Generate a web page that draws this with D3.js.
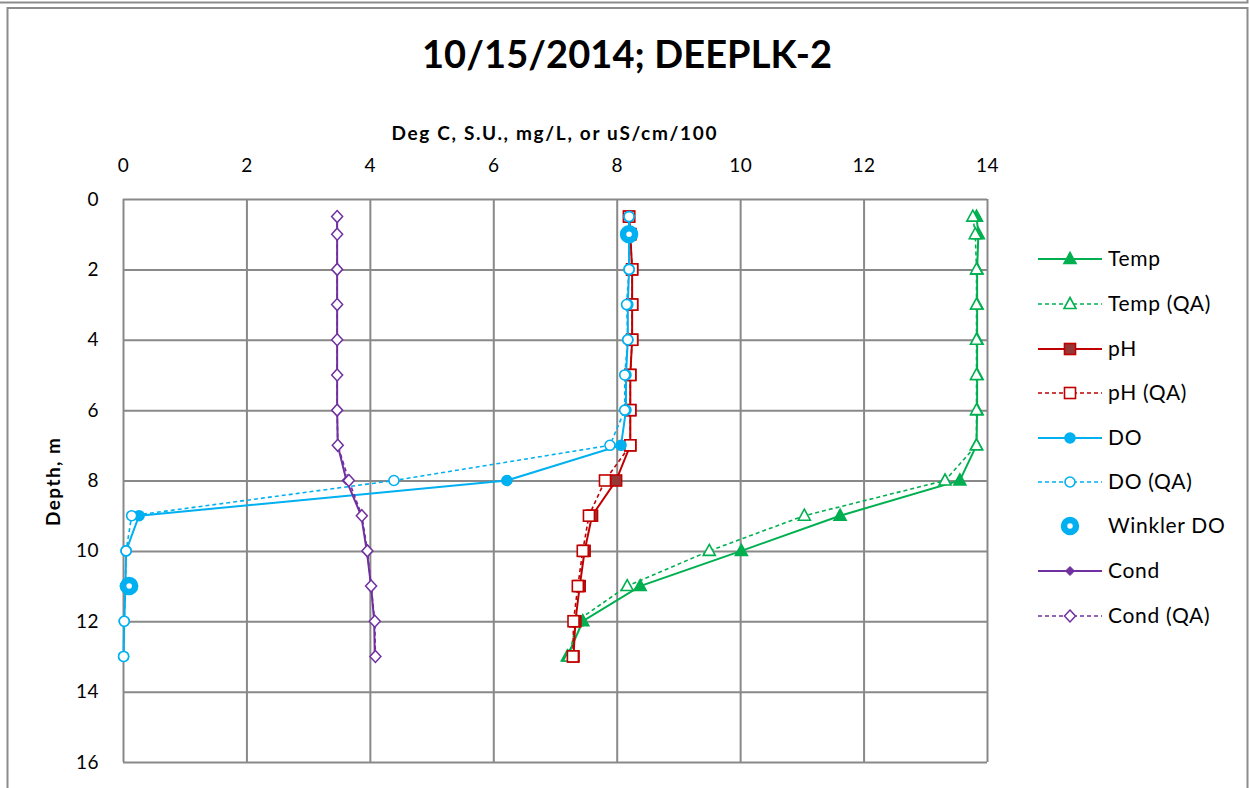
<!DOCTYPE html>
<html>
<head>
<meta charset="utf-8">
<script src="https://cdn.jsdelivr.net/npm/d3@7"></script>
<style>
  html, body { margin: 0; padding: 0; background: #fff; }
  svg { display: block; }
  text { font-family: Lato, "Open Sans", sans-serif; fill: #000; }
</style>
</head>
<body>
<div id="chart"></div>
<script>
// depth of each profile reading, m
const depths = [0.5, 1, 2, 3, 4, 5, 6, 7, 8, 9, 10, 11, 12, 13];

// values
const temp   = [13.83, 13.86, 13.84, 13.84, 13.84, 13.84, 13.84, 13.83, 13.56, 11.62, 10.02, 8.38, 7.45, 7.20];
const tempQA = [13.77, 13.81, 13.83, 13.83, 13.83, 13.83, 13.83, 13.83, 13.32, 11.04, 9.50, 8.17, 7.35, 7.23];
const ph     = [8.20, 8.22, 8.25, 8.25, 8.25, 8.22, 8.22, 8.22, 7.99, 7.60, 7.48, 7.40, 7.33, 7.30];
const phQA   = [8.20, 8.22, 8.25, 8.25, 8.25, 8.22, 8.22, 8.22, 7.81, 7.55, 7.45, 7.37, 7.30, 7.29];
const dox    = [8.20, 8.20, 8.20, 8.18, 8.18, 8.15, 8.15, 8.07, 6.22, 0.26, 0.05, 0.04, 0.02, 0.01];
const doQA   = [8.20, 8.20, 8.20, 8.16, 8.18, 8.13, 8.13, 7.89, 4.39, 0.14, 0.05, 0.04, 0.02, 0.01];
const winklerDepths = [1, 11];
const winkler = [8.20, 0.10];
const cond   = [3.47, 3.47, 3.47, 3.47, 3.47, 3.47, 3.47, 3.48, 3.62, 3.86, 3.95, 4.02, 4.07, 4.08];
const condQA = [3.47, 3.47, 3.47, 3.47, 3.47, 3.47, 3.47, 3.48, 3.66, 3.87, 3.96, 4.02, 4.08, 4.09];

const xTicks = [0, 2, 4, 6, 8, 10, 12, 14];
const yTicks = [0, 2, 4, 6, 8, 10, 12, 14, 16];

const chartTitle = "10/15/2014; DEEPLK-2";
const xTitle = "Deg C, S.U., mg/L, or uS/cm/100";
const yTitle = "Depth, m";

const W = 1249, H = 788;
const plot = {left: 123, right: 987, top: 199, bottom: 762};

const green = "#00B050", red = "#C00000", brown = "#953735", blue = "#00B0F0", purple = "#7030A0";

// series in Excel drawing order
const series = [
  {name: "Temp",       x: temp,   d: depths, color: green,  dash: null,  marker: "triangle", fill: green},
  {name: "Temp (QA)",  x: tempQA, d: depths, color: green,  dash: "4,3", marker: "triangle", fill: "#fff"},
  {name: "pH",         x: ph,     d: depths, color: red,    dash: null,  marker: "square",   fill: brown},
  {name: "pH (QA)",    x: phQA,   d: depths, color: red,    dash: "4,3", marker: "square",   fill: "#fff"},
  {name: "DO",         x: dox,    d: depths, color: blue,   dash: null,  marker: "circle",   fill: blue},
  {name: "DO (QA)",    x: doQA,   d: depths, color: blue,   dash: "4,3", marker: "circle",   fill: "#fff"},
  {name: "Winkler DO", x: winkler, d: winklerDepths, color: blue, dash: null, marker: "winkler", fill: "#fff", noLine: true},
  {name: "Cond",       x: cond,   d: depths, color: purple, dash: null,  marker: "diamondSmall", fill: purple},
  {name: "Cond (QA)",  x: condQA, d: depths, color: purple, dash: "4,3", marker: "diamond",  fill: "#fff"}
];

const svg = d3.select("#chart").append("svg")
  .attr("width", W)
  .attr("height", H);

// outer frames (bottom edge of the chart above, then this chart)
svg.append("rect")
  .attr("x", -5).attr("y", -20).attr("width", 1252.5).attr("height", 22.5)
  .attr("fill", "none").attr("stroke", "#8c8c8c").attr("stroke-width", 2);
svg.append("rect")
  .attr("x", 7.5).attr("y", 8).attr("width", 1240).attr("height", 800)
  .attr("fill", "#fff").attr("stroke", "#8c8c8c").attr("stroke-width", 2);

const x = d3.scaleLinear().domain([0, 14]).range([plot.left, plot.right]);
const y = d3.scaleLinear().domain([0, 16]).range([plot.top, plot.bottom]);

// gridlines
svg.append("g")
  .attr("transform", `translate(0,${plot.bottom})`)
  .call(d3.axisBottom(x).tickValues(xTicks).tickSize(-(plot.bottom - plot.top)).tickFormat(""))
  .call(g => g.select(".domain").remove())
  .call(g => g.selectAll("line").attr("stroke", "#898989").attr("stroke-width", 2));
svg.append("g")
  .attr("transform", `translate(${plot.right},0)`)
  .call(d3.axisLeft(y).tickValues(yTicks).tickSize(plot.right - plot.left).tickFormat(""))
  .call(g => g.select(".domain").remove())
  .call(g => g.selectAll("line").attr("stroke", "#898989").attr("stroke-width", 2));

// axes (labels only, Excel style)
svg.append("g")
  .attr("transform", `translate(0,${plot.top})`)
  .call(d3.axisTop(x).tickValues(xTicks).tickSize(0).tickPadding(27))
  .call(g => g.select(".domain").remove())
  .call(g => g.selectAll("text").attr("font-size", 19).attr("letter-spacing", 0.5).style("font-family", "Lato"));
svg.append("g")
  .attr("transform", `translate(${plot.left},0)`)
  .call(d3.axisLeft(y).tickValues(yTicks).tickSize(0).tickPadding(24))
  .call(g => g.select(".domain").remove())
  .call(g => g.selectAll("text").attr("font-size", 19).attr("letter-spacing", 0.5).style("font-family", "Lato"));

// titles
svg.append("text")
  .attr("x", 627).attr("y", 68)
  .attr("text-anchor", "middle")
  .attr("font-size", 38).attr("font-weight", "bold")
  .attr("textLength", 410).attr("lengthAdjust", "spacing")
  .text(chartTitle);
svg.append("text")
  .attr("x", 554).attr("y", 140)
  .attr("text-anchor", "middle")
  .attr("font-size", 19).attr("font-weight", "bold")
  .attr("textLength", 325).attr("lengthAdjust", "spacing")
  .text(xTitle);
svg.append("text")
  .attr("transform", "translate(60,482) rotate(-90)")
  .attr("text-anchor", "middle")
  .attr("font-size", 19).attr("font-weight", "bold")
  .attr("textLength", 88).attr("lengthAdjust", "spacing")
  .text(yTitle);

function drawMarker(g, type, color, fill) {
  if (type === "triangle") {
    g.append("path").attr("d", "M0,-6.5L6,4.5L-6,4.5Z")
      .attr("fill", fill).attr("stroke", color).attr("stroke-width", 1.6);
  } else if (type === "square") {
    g.append("rect").attr("x", -5.5).attr("y", -5.5).attr("width", 11).attr("height", 11)
      .attr("fill", fill).attr("stroke", color).attr("stroke-width", 1.6);
  } else if (type === "circle") {
    g.append("circle").attr("r", 5)
      .attr("fill", fill).attr("stroke", color).attr("stroke-width", 1.6);
  } else if (type === "winkler") {
    g.append("circle").attr("r", 6)
      .attr("fill", "#fff").attr("stroke", color).attr("stroke-width", 6.5);
  } else if (type === "diamond") {
    g.append("path").attr("d", "M0,-6L5.5,0L0,6L-5.5,0Z")
      .attr("fill", fill).attr("stroke", color).attr("stroke-width", 1.5);
  } else if (type === "diamondSmall") {
    g.append("path").attr("d", "M0,-4.5L4.5,0L0,4.5L-4.5,0Z")
      .attr("fill", fill).attr("stroke", color).attr("stroke-width", 1);
  }
}

const line = d3.line().x(p => x(p[0])).y(p => y(p[1]));

series.forEach(s => {
  const pts = s.x.map((v, i) => [v, s.d[i]]);
  const g = svg.append("g");
  if (!s.noLine) {
    g.append("path")
      .attr("d", line(pts))
      .attr("fill", "none")
      .attr("stroke", s.color)
      .attr("stroke-width", s.dash ? 1.6 : 2)
      .attr("stroke-dasharray", s.dash);
  }
  pts.forEach(p => {
    drawMarker(g.append("g").attr("transform", `translate(${x(p[0])},${y(p[1])})`), s.marker, s.color, s.fill);
  });
});

// legend
const legend = svg.append("g");
const legendY = [259, 304, 349, 393, 438, 482, 526, 571, 616];
series.forEach((s, i) => {
  const row = legend.append("g").attr("transform", `translate(0,${legendY[i]})`);
  if (!s.noLine) {
    row.append("line")
      .attr("x1", 1038).attr("x2", 1102)
      .attr("stroke", s.color)
      .attr("stroke-width", s.dash ? 1.6 : 2)
      .attr("stroke-dasharray", s.dash);
  }
  const m = row.append("g").attr("transform", "translate(1070,0)");
  drawMarker(m, s.marker, s.color, s.fill);
  row.append("text")
    .attr("x", 1108).attr("y", 7)
    .attr("font-size", 21)
    .attr("letter-spacing", 0.7)
    .text(s.name);
});
</script>
</body>
</html>
